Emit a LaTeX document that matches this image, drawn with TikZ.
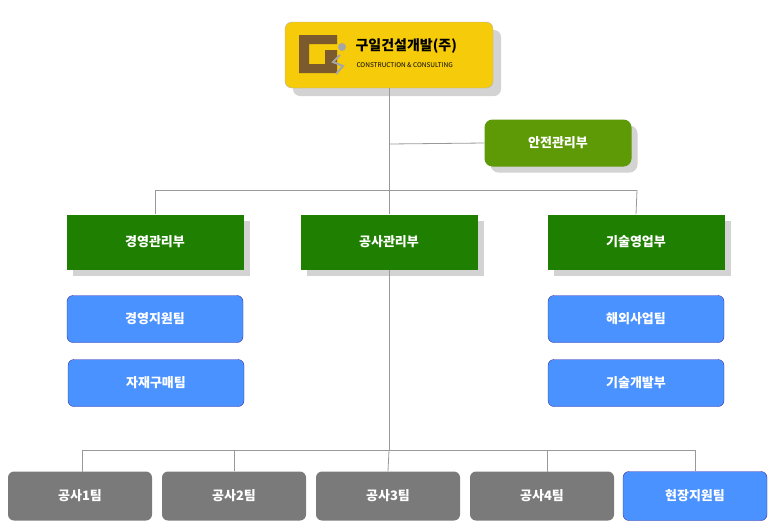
\documentclass[tikz,border=0pt]{standalone}
\usepackage{fontspec}
\setmainfont{Noto Sans CJK KR}
\usetikzlibrary{shadows}
\definecolor{logoyel}{HTML}{F5CB0A}
\definecolor{deptgrn}{HTML}{1F7F00}
\definecolor{safegrn}{HTML}{5E9A05}
\definecolor{teamblu}{HTML}{4A92FF}
\definecolor{teamedge}{HTML}{3A2FA0}
\definecolor{siteg}{HTML}{7A7A7A}
\definecolor{logobrn}{HTML}{7B5A2E}
\tikzset{
  box/.style = {minimum height=47pt, text=white, font=\bfseries\fontsize{13}{13}\selectfont,
    inner sep=0pt},
  dept/.style = {box, fill=deptgrn, minimum width=177pt, minimum height=55pt,
    rounded corners=0pt, drop shadow={shadow xshift=6pt, shadow yshift=-6pt, opacity=.35}},
  team/.style = {box, fill=teamblu, draw=teamedge, rounded corners=6pt, minimum width=176pt},
  crew/.style = {box, fill=siteg, rounded corners=6pt, minimum width=144pt, minimum height=49pt},
  link/.style = {draw=gray!80, line width=0.8pt}}
\begin{document}
\begin{tikzpicture}[x=1pt,y=-1pt]
\useasboundingbox (0,0) rectangle (773,531);
% lines
\coordinate (hubL) at (155,190);
\coordinate (hubR) at (637,190);
\coordinate (busL) at (82,450);
\coordinate (busR) at (695,450);
% boxes
\node [fill=logoyel, draw=gray!60, rounded corners=7pt, minimum width=208pt, minimum height=66pt,
  drop shadow={shadow xshift=8pt, shadow yshift=-8pt, opacity=.35}] (logo) at (389,55) {};
\fill [logobrn] (299,35) rectangle (337,44) (299,35) rectangle (309,73) (299,64) rectangle (337,73)
  (325,50) rectangle (337,73);
\fill [gray!70] (342,47) circle (4pt);
\draw [gray!70, line width=2pt] (340,55) -- (333,62) -- (343,66) -- (336,74);
\node [anchor=west, font=\bfseries\fontsize{14}{14}\selectfont] (name) at (352,46) {구일건설개발(주)};
\node [anchor=west, font=\fontsize{6.5}{6.5}\selectfont] (eng) at (353,65) {CONSTRUCTION \& CONSULTING};
\node [box, fill=safegrn, rounded corners=8pt, minimum width=147pt,
  drop shadow={shadow xshift=6pt, shadow yshift=-6pt, opacity=.35}] (safe) at (558,143) {안전관리부};
\node [dept] (mgmt) at (155,242) {경영관리부};
\node [dept] (cons) at (389,242) {공사관리부};
\node [dept] (tech) at (636,242) {기술영업부};
\node [team] (mgmt1) at (155,319) {경영지원팀};
\node [team] (mgmt2) at (156,383) {자재구매팀};
\node [team] (tech1) at (636,319) {해외사업팀};
\node [team] (tech2) at (636,383) {기술개발부};
\node [crew] (c1) at (80,496) {공사1팀};
\node [crew] (c2) at (234,496) {공사2팀};
\node [crew] (c3) at (388,496) {공사3팀};
\node [crew] (c4) at (542,496) {공사4팀};
\node [crew, fill=teamblu, draw=teamedge] (site) at (695,496) {현장지원팀};
% connectors
\draw [link] (logo.south) -- (cons.north);
\draw [link] (389,144) -- (safe.west);
\draw [link] (hubL) -- (hubR);
\draw [link] (hubL) -- (mgmt.north);
\draw [link] (hubR) -- (tech.north);
\draw [link] (cons.south) -- (389,450);
\draw [link] (busL) -- (busR);
\draw [link] (busL) -- (82,472);
\draw [link] (234,450) -- (c2.north);
\draw [link] (389,450) -- (c3.north);
\draw [link] (547,450) -- (547,472);
\draw [link] (busR) -- (site.north);
\end{tikzpicture}
\end{document}
